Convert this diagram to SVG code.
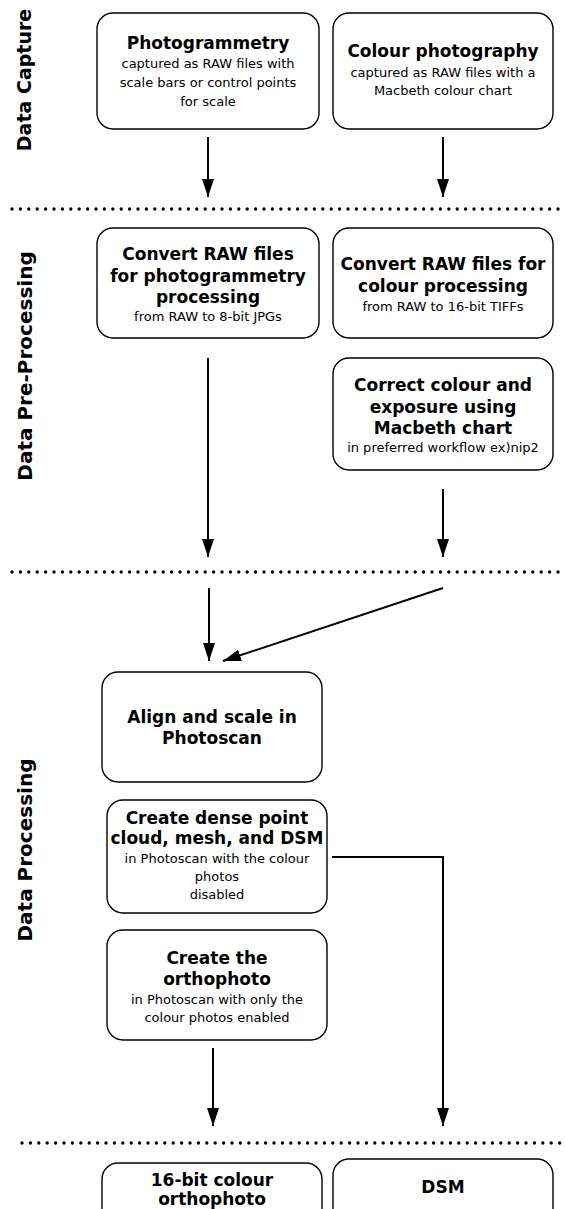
<svg xmlns="http://www.w3.org/2000/svg" width="565" height="1209" viewBox="0 0 565 1209">
<style>
.box{fill:#fff;stroke:#000;stroke-width:1.4}
.b{font-family:"DejaVu Sans",sans-serif;font-weight:bold;font-size:17px;text-anchor:middle;fill:#000}
.r{font-family:"DejaVu Sans",sans-serif;font-size:13px;text-anchor:middle;fill:#000}
.lab{font-family:"DejaVu Sans",sans-serif;font-weight:bold;text-anchor:middle;fill:#000}
.con{fill:none;stroke:#000;stroke-width:2}
.dot{fill:none;stroke:#000;stroke-width:3.4;stroke-linecap:round;stroke-dasharray:0 8.4}
</style>
<defs>
<marker id="ah" viewBox="0 0 18 12" refX="18" refY="6" markerWidth="18" markerHeight="12" markerUnits="userSpaceOnUse" orient="auto">
<path d="M0,0 L18,6 L0,12 z" fill="#000"/>
</marker>
</defs>
<rect width="565" height="1209" fill="#fff"/>

<g id="labels">
<text class="lab" font-size="19" transform="translate(31,80) rotate(-90)">Data Capture</text>
<text class="lab" font-size="20" transform="translate(32,366) rotate(-90)">Data Pre-Processing</text>
<text class="lab" font-size="20" transform="translate(32,850) rotate(-90)">Data Processing</text>
</g>

<g id="separators">
<line class="dot" x1="12" y1="209" x2="562" y2="209"/>
<line class="dot" x1="12" y1="572" x2="562" y2="572"/>
<line class="dot" x1="22" y1="1143" x2="562" y2="1143"/>
</g>

<g id="connectors">
<line class="con" x1="208" y1="137" x2="208" y2="197" marker-end="url(#ah)"/>
<line class="con" x1="443" y1="137" x2="443" y2="197" marker-end="url(#ah)"/>
<line class="con" x1="208" y1="358" x2="208" y2="557" marker-end="url(#ah)"/>
<line class="con" x1="443" y1="489" x2="443" y2="557" marker-end="url(#ah)"/>
<line class="con" x1="209" y1="588" x2="209" y2="661" marker-end="url(#ah)"/>
<line class="con" x1="443" y1="588" x2="223" y2="661" marker-end="url(#ah)"/>
<polyline class="con" points="332,857 443,857 443,1126" marker-end="url(#ah)"/>
<line class="con" x1="213" y1="1048" x2="213" y2="1126" marker-end="url(#ah)"/>
</g>

<g id="n1">
<rect class="box" x="97" y="13" width="222" height="116" rx="16"/>
<text class="b" x="208" y="49">Photogrammetry</text>
<text class="r" x="208" y="68">captured as RAW files with</text>
<text class="r" x="208" y="87">scale bars or control points</text>
<text class="r" x="208" y="106">for scale</text>
</g>
<g id="n2">
<rect class="box" x="333" y="13" width="220" height="116" rx="16"/>
<text class="b" x="443" y="57">Colour photography</text>
<text class="r" x="443" y="77">captured as RAW files with a</text>
<text class="r" x="443" y="95">Macbeth colour chart</text>
</g>
<g id="n3">
<rect class="box" x="97" y="228" width="222" height="110" rx="16"/>
<text class="b" x="208" y="260">Convert RAW files</text>
<text class="b" x="208" y="282">for photogrammetry</text>
<text class="b" x="208" y="303">processing</text>
<text class="r" x="208" y="321">from RAW to 8-bit JPGs</text>
</g>
<g id="n4">
<rect class="box" x="333" y="228" width="220" height="110" rx="16"/>
<text class="b" x="443" y="270">Convert RAW files for</text>
<text class="b" x="443" y="292">colour processing</text>
<text class="r" x="443" y="311">from RAW to 16-bit TIFFs</text>
</g>
<g id="n5">
<rect class="box" x="333" y="358" width="220" height="112" rx="16"/>
<text class="b" x="443" y="391">Correct colour and</text>
<text class="b" x="443" y="413">exposure using</text>
<text class="b" x="443" y="434">Macbeth chart</text>
<text class="r" x="443" y="452">in preferred workflow ex)nip2</text>
</g>
<g id="n6">
<rect class="box" x="102" y="672" width="220" height="110" rx="16"/>
<text class="b" x="212" y="723">Align and scale in</text>
<text class="b" x="212" y="744">Photoscan</text>
</g>
<g id="n7">
<rect class="box" x="107" y="800" width="220" height="113" rx="16"/>
<text class="b" x="217" y="824">Create dense point</text>
<text class="b" x="217" y="844">cloud, mesh, and DSM</text>
<text class="r" x="217" y="863">in Photoscan with the colour</text>
<text class="r" x="217" y="881">photos</text>
<text class="r" x="217" y="899">disabled</text>
</g>
<g id="n8">
<rect class="box" x="107" y="930" width="220" height="110" rx="16"/>
<text class="b" x="217" y="964">Create the</text>
<text class="b" x="217" y="985">orthophoto</text>
<text class="r" x="217" y="1004">in Photoscan with only the</text>
<text class="r" x="217" y="1022">colour photos enabled</text>
</g>
<g id="n9">
<rect class="box" x="102" y="1163" width="220" height="70" rx="16"/>
<text class="b" x="212" y="1186">16-bit colour</text>
<text class="b" x="212" y="1205">orthophoto</text>
</g>
<g id="n10">
<rect class="box" x="333" y="1159" width="220" height="74" rx="16"/>
<text class="b" x="443" y="1193">DSM</text>
</g>
</svg>
